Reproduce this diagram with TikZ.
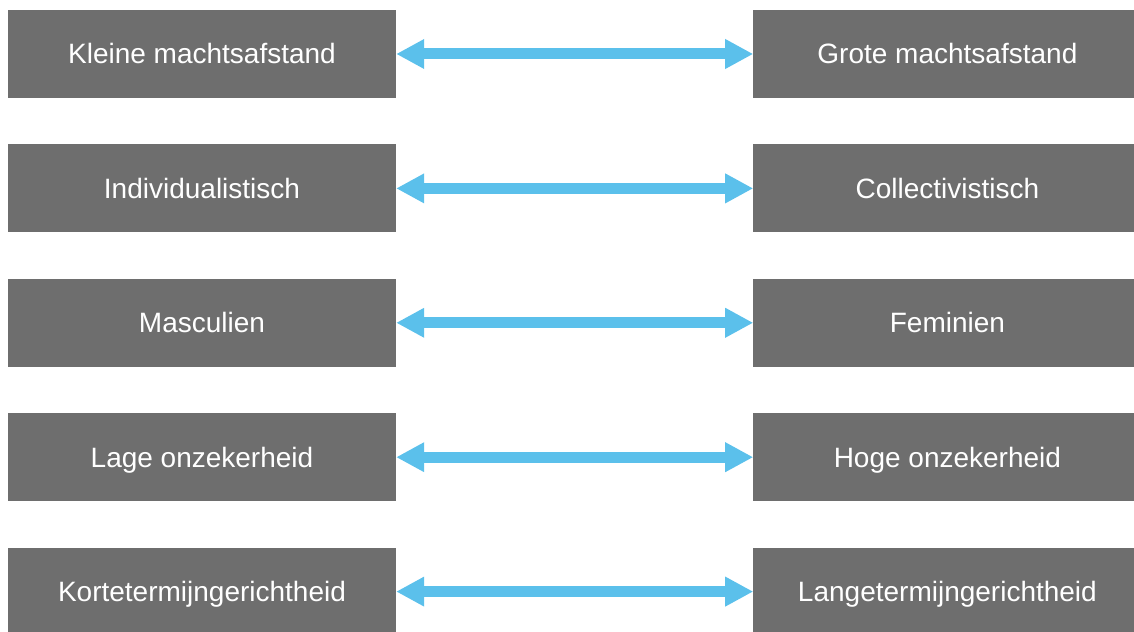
\documentclass[tikz,border=0pt]{standalone}
\usepackage{fontspec}
\setmainfont{Liberation Sans}
\usepackage{tikz}
\usetikzlibrary{positioning}
\usetikzlibrary{arrows.meta}

\definecolor{boxgray}{RGB}{110,110,110}
\definecolor{arrowblue}{RGB}{91,192,235}

\begin{document}
\begin{tikzpicture}[x=1bp,y=1bp]
\tikzset{dimbox/.style={rectangle,minimum width=388bp,minimum height=88bp, inner sep=0pt, fill=boxgray, text=white, text height=20bp, text depth=0pt, font=\fontsize{28bp}{34bp}\selectfont}}
\tikzset{pole/.style={line width=11bp, arrowblue, {Triangle[length=28bp,width=28bp]}-{Triangle[length=28bp,width=28bp]}}}
\useasboundingbox (0,0) rectangle (1134,632);
\clip (0,0) rectangle (1134,632);
% left column
\node[dimbox] (klein) at (202,578) {Kleine machtsafstand};
\node[dimbox, below = 46bp of klein] (indiv) {Individualistisch};
\node[dimbox, below = 46bp of indiv] (mascu) {Masculien};
\node[dimbox, below = 46bp of mascu] (lage) {Lage onzekerheid};
\node[dimbox, below = 46bp of lage] (kort) {Kortetermijngerichtheid};
% right column
\node[dimbox, right = 357bp of klein] (groot) {Grote machtsafstand};
\node[dimbox, right = 357bp of indiv] (coll) {Collectivistisch};
\node[dimbox, right = 357bp of mascu] (femi) {Feminien};
\node[dimbox, right = 357bp of lage] (hoog) {Hoge onzekerheid};
\node[dimbox, right = 357bp of kort] (lang) {Langetermijngerichtheid};
% arrows
\draw[pole] (klein) -- (groot);
\draw[pole] (indiv) -- (coll);
\draw[pole] (mascu) -- (femi);
\draw[pole] (lage) -- (hoog);
\draw[pole] (kort) -- (lang);
\end{tikzpicture}
\end{document}
